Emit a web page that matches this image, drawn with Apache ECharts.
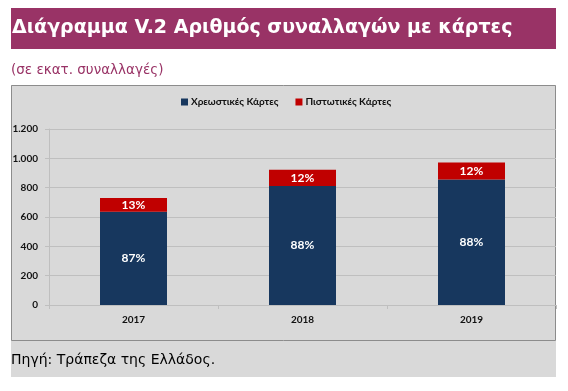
<!DOCTYPE html>
<html>
<head>
<meta charset="utf-8">
<script src="https://cdn.jsdelivr.net/npm/echarts@6/dist/echarts.min.js"></script>
<style>
html,body{margin:0;padding:0;background:#ffffff;}
#chart{width:568px;height:391px;}
</style>
</head>
<body>
<div id="chart"></div>
<script>
const categories = ['2017', '2018', '2019'];
const debitValues = [635, 812, 856];
const creditValues = [95, 110, 116];
const debitShares = ['87%', '88%', '88%'];
const creditShares = ['13%', '12%', '12%'];
const yTicks = [0, 200, 400, 600, 800, 1000, 1200];
const seriesNames = ['Χρεωστικές Κάρτες', 'Πιστωτικές Κάρτες'];

const chart = echarts.init(document.getElementById('chart'), null, {renderer: 'canvas'});
const labelFont = 'Lato, "DejaVu Sans", sans-serif';
const option = {
  animation: false,
  backgroundColor: '#ffffff',
  graphic: [
    {type: 'rect', shape: {x: 11, y: 8, width: 545, height: 41}, style: {fill: '#993366'}, z: -10},
    {type: 'rect', shape: {x: 11, y: 85, width: 545, height: 292}, style: {fill: '#d9d9d9'}, z: -10},
    {type: 'rect', shape: {x: 11.5, y: 85.5, width: 544, height: 255}, style: {fill: 'none', stroke: '#8c8c8c', lineWidth: 1}, z: -9}
  ],
  title: [
    {text: 'Διάγραμμα V.2 Αριθμός συναλλαγών με κάρτες', left: 12, top: 19, padding: 0,
     textStyle: {color: '#ffffff', fontSize: 19, fontWeight: 'bold', fontFamily: '"DejaVu Sans", sans-serif'}},
    {text: '(σε εκατ. συναλλαγές)', left: 11, top: 63, padding: 0,
     textStyle: {color: '#993366', fontSize: 13.5, fontWeight: 'normal', fontFamily: '"DejaVu Sans", sans-serif'}},
    {text: 'Πηγή: Τράπεζα της Ελλάδος.', left: 11, top: 353, padding: 0,
     textStyle: {color: '#000000', fontSize: 14, fontWeight: 'normal', fontFamily: '"DejaVu Sans", sans-serif'}}
  ],
  legend: {
    data: seriesNames,
    left: 176, top: 92,
    itemWidth: 7, itemHeight: 7, itemGap: 17,
    icon: 'rect',
    textStyle: {fontSize: 10, fontWeight: 'bold', color: '#111111', fontFamily: labelFont, padding: [0, 0, 0, -2]}
  },
  grid: {left: 49, right: 12, top: 129, bottom: 86, containLabel: false},
  xAxis: {
    type: 'category',
    data: categories,
    axisLine: {lineStyle: {color: '#bfbfbf'}},
    axisTick: {show: true, length: 4, lineStyle: {color: '#bfbfbf'}},
    axisLabel: {fontSize: 10, fontWeight: 'bold', color: '#111111', fontFamily: labelFont, margin: 10}
  },
  yAxis: {
    type: 'value',
    min: yTicks[0], max: yTicks[yTicks.length - 1], interval: 200,
    axisLine: {show: true, lineStyle: {color: '#bfbfbf'}},
    axisTick: {show: true, length: 4, lineStyle: {color: '#bfbfbf'}},
    splitLine: {lineStyle: {color: '#bfbfbf'}},
    axisLabel: {fontSize: 10, fontWeight: 'bold', color: '#111111', fontFamily: labelFont, margin: 11,
      formatter: v => String(v).replace(/\B(?=(\d{3})+(?!\d))/g, '.')}
  },
  series: [
    {name: seriesNames[0], type: 'bar', stack: 'total', barWidth: 67, data: debitValues,
     itemStyle: {color: '#17375e'},
     label: {show: true, position: 'inside', color: '#ffffff', fontSize: 12, fontWeight: 'bold', fontFamily: labelFont,
       formatter: p => debitShares[p.dataIndex]}},
    {name: seriesNames[1], type: 'bar', stack: 'total', barWidth: 67, data: creditValues,
     itemStyle: {color: '#c00000'},
     label: {show: true, position: 'inside', color: '#ffffff', fontSize: 12, fontWeight: 'bold', fontFamily: labelFont,
       formatter: p => creditShares[p.dataIndex]}}
  ]
};
chart.setOption(option);
</script>
</body>
</html>
